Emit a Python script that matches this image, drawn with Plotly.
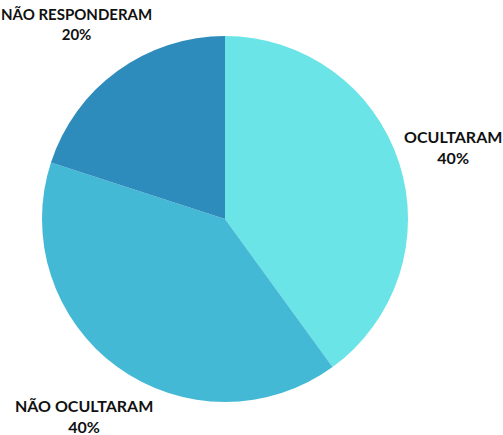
import plotly.graph_objects as go

labels = ["OCULTARAM", "NÃO OCULTARAM", "NÃO RESPONDERAM"]
values = [40, 40, 20]
colors = ["#6ae4e7", "#44b9d6", "#2e8cbc"]

W, H = 503, 435
fig = go.Figure(go.Pie(
    labels=labels, values=values, sort=False, direction="clockwise", rotation=0,
    marker=dict(colors=colors, line=dict(width=0)),
    textinfo="none", hoverinfo="label+percent", showlegend=False,
    domain=dict(x=[42/W, 408/W], y=[1-402/H, 1-36/H]),
))

ann = [
    ("NÃO RESPONDERAM", values[2], 76, 24, 15),
    ("OCULTARAM", values[0], 453, 147, 16),
    ("NÃO OCULTARAM", values[1], 84, 416, 16),
]
for name, v, x, y, s in ann:
    fig.add_annotation(
        x=x/W, y=1-y/H, xref="paper", yref="paper", showarrow=False,
        text=f"<b>{name}<br>{v}%</b>", align="center",
        font=dict(family="Lato", size=s, color="#111111"),
        xanchor="center", yanchor="middle",
    )

fig.update_layout(width=W, height=H, margin=dict(l=0, r=0, t=0, b=0),
                  paper_bgcolor="white", plot_bgcolor="white")
fig.write_html("out.html", config={"displayModeBar": False},
               post_script="document.body.style.margin='0';document.body.style.overflow='hidden';")
